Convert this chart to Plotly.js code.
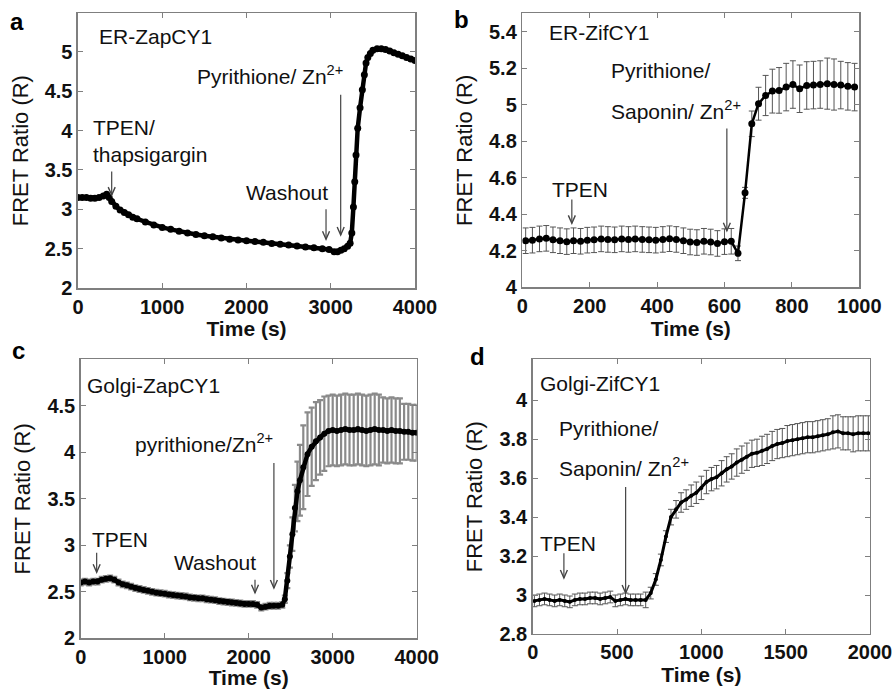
<!DOCTYPE html>
<html>
<head>
<meta charset="utf-8">
<script src="https://cdn.plot.ly/plotly-3.0.1.min.js"></script>
<style>html,body{margin:0;padding:0;background:#fff;}#chart{width:896px;height:689px;}</style>
</head>
<body>
<div id="chart"></div>
<script>
// ---------- Panel a: ER-ZapCY1 ----------
const timeA = [0,50,100,150,200,250,300,340,370,400,450,500,550,600,650,700,800,900,1000,1100,1200,1300,1400,1500,1600,1700,1800,1900,2000,2100,2200,2300,2400,2500,2600,2700,2800,2900,2980,3040,3080,3120,3160,3200,3230,3250,3269,3285,3300,3320,3348,3375,3399,3419,3440,3470,3500,3550,3600,3650,3700,3750,3800,3850,3900,3950,4000];
const ratioA = [3.15,3.15,3.15,3.14,3.14,3.15,3.17,3.19,3.15,3.10,3.04,2.99,2.96,2.93,2.90,2.88,2.84,2.80,2.77,2.745,2.72,2.70,2.68,2.665,2.65,2.635,2.62,2.61,2.60,2.59,2.58,2.565,2.555,2.545,2.535,2.52,2.51,2.50,2.49,2.46,2.46,2.48,2.50,2.53,2.57,2.70,3.03,3.35,3.69,4.03,4.29,4.52,4.71,4.86,4.93,4.98,5.02,5.04,5.04,5.03,5.01,4.99,4.97,4.95,4.93,4.91,4.89];

// ---------- Panel b: ER-ZifCY1 ----------
const timeB = [10,30,51,71,91,112,132,152,173,193,213,234,254,274,295,315,335,356,376,396,417,437,457,478,498,518,539,559,579,600,620,640,661,681,701,722,742,762,783,803,823,844,864,884,905,925,945,966,986];
const ratioB = [4.255,4.258,4.265,4.268,4.26,4.255,4.25,4.255,4.252,4.258,4.26,4.265,4.262,4.26,4.265,4.262,4.265,4.262,4.26,4.258,4.262,4.266,4.262,4.255,4.248,4.245,4.252,4.248,4.24,4.25,4.252,4.186,4.517,4.895,5.005,5.05,5.074,5.078,5.096,5.11,5.087,5.105,5.107,5.11,5.115,5.11,5.107,5.10,5.096];
const errB = [0.07,0.07,0.07,0.07,0.07,0.07,0.07,0.07,0.07,0.07,0.07,0.07,0.07,0.07,0.07,0.07,0.07,0.07,0.07,0.07,0.07,0.07,0.07,0.07,0.07,0.07,0.07,0.07,0.07,0.07,0.07,0.04,0.03,0.07,0.09,0.11,0.12,0.125,0.13,0.13,0.13,0.13,0.13,0.13,0.14,0.14,0.13,0.13,0.13];

// ---------- Panel c: Golgi-ZapCY1 ----------
const timeC = [0,50,100,150,200,250,300,350,400,450,500,550,600,650,700,750,800,850,900,950,1000,1050,1100,1150,1200,1250,1300,1350,1400,1450,1500,1550,1600,1650,1700,1750,1800,1850,1900,1950,2000,2050,2100,2150,2200,2250,2300,2350,2400,2430,2460,2490,2520,2550,2580,2610,2650,2700,2750,2800,2850,2900,2950,3000,3050,3100,3150,3200,3250,3300,3350,3400,3450,3500,3550,3600,3650,3700,3750,3800,3850,3900,3950,4000];
const ratioC = [2.60,2.61,2.60,2.61,2.61,2.63,2.64,2.645,2.63,2.60,2.58,2.57,2.555,2.54,2.53,2.52,2.51,2.50,2.49,2.485,2.48,2.47,2.465,2.46,2.455,2.45,2.44,2.435,2.43,2.43,2.42,2.415,2.41,2.40,2.395,2.39,2.385,2.38,2.375,2.37,2.37,2.37,2.36,2.33,2.34,2.35,2.35,2.35,2.36,2.42,2.62,2.88,3.12,3.40,3.58,3.70,3.84,3.98,4.06,4.12,4.16,4.20,4.23,4.24,4.23,4.24,4.25,4.24,4.24,4.25,4.24,4.23,4.24,4.25,4.24,4.24,4.23,4.24,4.23,4.23,4.22,4.22,4.21,4.21];
const errC = [0.03,0.03,0.03,0.03,0.03,0.03,0.03,0.03,0.03,0.03,0.03,0.03,0.03,0.03,0.03,0.03,0.03,0.03,0.03,0.03,0.03,0.03,0.03,0.03,0.03,0.03,0.03,0.03,0.03,0.03,0.03,0.03,0.03,0.03,0.03,0.03,0.03,0.03,0.03,0.03,0.03,0.03,0.03,0.03,0.03,0.03,0.03,0.03,0.03,0.04,0.08,0.12,0.18,0.25,0.32,0.38,0.45,0.45,0.42,0.42,0.40,0.40,0.38,0.38,0.38,0.38,0.38,0.38,0.38,0.38,0.38,0.38,0.38,0.38,0.38,0.35,0.35,0.35,0.35,0.35,0.30,0.30,0.30,0.30];

// ---------- Panel d: Golgi-ZifCY1 ----------
const timeD = [10,40,70,100,130,160,190,220,250,280,310,340,370,400,430,460,490,520,550,580,610,640,670,700,730,760,790,820,850,880,910,940,970,1000,1030,1060,1090,1120,1150,1180,1210,1240,1270,1300,1330,1360,1390,1420,1450,1480,1510,1540,1570,1600,1630,1660,1690,1720,1750,1780,1810,1840,1870,1900,1930,1960,1990];
const ratioD = [2.97,2.975,2.98,2.975,2.97,2.975,2.97,2.965,2.975,2.98,2.98,2.985,2.985,2.98,2.985,2.99,2.97,2.975,2.98,2.975,2.975,2.975,2.975,3.01,3.08,3.18,3.30,3.40,3.44,3.475,3.49,3.51,3.525,3.55,3.58,3.595,3.605,3.625,3.645,3.66,3.68,3.695,3.71,3.725,3.73,3.74,3.75,3.765,3.775,3.78,3.79,3.795,3.80,3.805,3.81,3.81,3.815,3.82,3.825,3.835,3.84,3.83,3.83,3.825,3.83,3.83,3.83];
const errD = [0.03,0.03,0.03,0.03,0.03,0.03,0.03,0.03,0.03,0.03,0.03,0.03,0.03,0.03,0.03,0.03,0.03,0.03,0.03,0.03,0.03,0.03,0.04,0.03,0.03,0.03,0.03,0.04,0.045,0.05,0.05,0.055,0.055,0.06,0.06,0.06,0.06,0.065,0.065,0.065,0.07,0.07,0.07,0.07,0.07,0.075,0.075,0.075,0.075,0.075,0.08,0.08,0.08,0.08,0.08,0.08,0.08,0.08,0.08,0.085,0.085,0.085,0.085,0.09,0.09,0.09,0.09];

// ---------- Tick values ----------
const yTicksA = [2,2.5,3,3.5,4,4.5,5];
const yTicksB = [4,4.2,4.4,4.6,4.8,5,5.2,5.4];
const yTicksC = [2,2.5,3,3.5,4,4.5];
const yTicksD = [2.8,3,3.2,3.4,3.6,3.8,4];
const xTicksA = [0,1000,2000,3000,4000];
const xTicksB = [0,200,400,600,800,1000];
const xTicksC = [0,1000,2000,3000,4000];
const xTicksD = [0,500,1000,1500,2000];

const FONT = 'Liberation Sans, Arial, Helvetica, sans-serif';
const AX = '#7f7f7f';

const traces = [
  {x: timeA, y: ratioA, xaxis:'x', yaxis:'y', mode:'lines+markers', line:{color:'#000', width:4.5}, marker:{color:'#000', size:7}},
  {x: timeB, y: ratioB, xaxis:'x2', yaxis:'y2', mode:'lines+markers', line:{color:'#000', width:2.5}, marker:{color:'#000', size:7},
    error_y:{type:'data', array: errB, color:'#555', thickness:1, width:3}},
  {x: timeC, y: ratioC, xaxis:'x3', yaxis:'y3', mode:'lines+markers', line:{color:'#000', width:4.5}, marker:{color:'#000', size:6},
    error_y:{type:'data', array: errC, color:'#8a8a8a', thickness:2.2, width:3}},
  {x: timeD, y: ratioD, xaxis:'x4', yaxis:'y4', mode:'lines+markers', line:{color:'#000', width:3}, marker:{color:'#000', size:4},
    error_y:{type:'data', array: errD, color:'#555', thickness:1, width:3}}
];

function xa(domain, range, tickvals, anchor){
  return {domain, range, tickvals, anchor, showline:true, linecolor:AX, linewidth:1.5, mirror:'ticks',
    ticks:'inside', ticklen:5, tickcolor:AX, showgrid:false, zeroline:false,
    tickfont:{family:FONT, size:20, color:'#111', weight:'bold'},
    title:{text:'Time (s)', font:{family:FONT, size:21, color:'#111', weight:'bold'}, standoff:4}};
}
function ya(domain, range, tickvals, anchor){
  return {domain, range, tickvals, anchor, showline:true, linecolor:AX, linewidth:1.5, mirror:'ticks',
    ticks:'inside', ticklen:5, tickcolor:AX, showgrid:false, zeroline:false,
    tickfont:{family:FONT, size:20, color:'#111', weight:'bold'},
    title:{text:'FRET Ratio (R)', font:{family:FONT, size:22, color:'#111'}, standoff:10}};
}

const TF = {family:FONT, size:21, color:'#111'};
function txt(xref, yref, x, y, text){
  return {xref, yref, x, y, text, showarrow:false, xanchor:'left', yanchor:'middle', font:TF};
}
// Arrow = shaft line (data coords) + small V head (pixel-sized, anchored at the head point)
const ARROW_COLOR = '#444';
function arrowShapes(xref, yref, x, yTail, yHead){
  return [
    {type:'line', xref, yref, x0:x, x1:x, y0:yTail, y1:yHead, line:{color:ARROW_COLOR, width:1.2}},
    {type:'path', xref, yref, xsizemode:'pixel', ysizemode:'pixel', xanchor:x, yanchor:yHead,
      path:'M-3.5,8 L0,0 L3.5,8', line:{color:ARROW_COLOR, width:1.4}}
  ];
}
function letter(x, y, t){
  return {xref:'paper', yref:'paper', x, y, text:t, showarrow:false, xanchor:'center', yanchor:'middle',
    font:{family:FONT, size:24, color:'#000', weight:'bold'}};
}

const annotations = [
  letter(0.019, 0.9695, 'a'), letter(0.5156, 0.971, 'b'), letter(0.0212, 0.4906, 'c'), letter(0.5324, 0.4819, 'd'),
  // panel a
  txt('x','y',225,5.19,'ER-ZapCY1'),
  txt('x','y',1389,4.71,'Pyrithione/ Zn<sup>2+</sup>'),
  txt('x','y',154,4.04,'TPEN/'),
  txt('x','y',154,3.69,'thapsigargin'),
  txt('x','y',1970,3.21,'Washout'),
  // panel b
  txt('x2','y2',73,5.395,'ER-ZifCY1'),
  txt('x2','y2',257,5.187,'Pyrithione/'),
  txt('x2','y2',257,4.97,'Saponin/ Zn<sup>2+</sup>'),
  txt('x2','y2',82,4.537,'TPEN'),
  // panel c
  txt('x3','y3',51,4.72,'Golgi-ZapCY1'),
  txt('x3','y3',623,4.10,'pyrithione/Zn<sup>2+</sup>'),
  txt('x3','y3',111,3.057,'TPEN'),
  txt('x3','y3',1087,2.81,'Washout'),
  // panel d
  txt('x4','y4',31,4.087,'Golgi-ZifCY1'),
  txt('x4','y4',144,3.856,'Pyrithione/'),
  txt('x4','y4',144,3.656,'Saponin/ Zn<sup>2+</sup>'),
  txt('x4','y4',31,3.267,'TPEN')
];

const shapes = [].concat(
  arrowShapes('x','y',400,3.48,3.18),
  arrowShapes('x','y',2944,3.0,2.62),
  arrowShapes('x','y',3118,4.455,2.674),
  arrowShapes('x2','y2',147,4.48,4.35),
  arrowShapes('x2','y2',607,4.87,4.31),
  arrowShapes('x3','y3',190,2.92,2.71),
  arrowShapes('x3','y3',2075,2.63,2.49),
  arrowShapes('x3','y3',2300,3.885,2.54),
  arrowShapes('x4','y4',185,3.215,3.087),
  arrowShapes('x4','y4',551,3.554,3.01)
);

const layout = {
  width:896, height:689, paper_bgcolor:'#fff', plot_bgcolor:'#fff', showlegend:false,
  margin:{l:0, r:0, t:0, b:0},
  font:{family:FONT, color:'#111'},
  xaxis:  xa([0.08705,0.46317],[0,4000],xTicksA,'y'),
  yaxis:  ya([0.58200,0.98070],[2,5.49],yTicksA,'x'),
  xaxis2: xa([0.58292,0.95904],[0,1000],xTicksB,'y2'),
  yaxis2: ya([0.58302,0.98070],[4,5.5],yTicksB,'x2'),
  xaxis3: xa([0.09007,0.46507],[0,4000],xTicksC,'y3'),
  yaxis3: ya([0.07358,0.47852],[2,5],yTicksC,'x3'),
  xaxis4: xa([0.59453,0.97098],[0,2000],xTicksD,'y4'),
  yaxis4: ya([0.07983,0.47852],[2.8,4.21],yTicksD,'x4'),
  annotations, shapes
};

Plotly.newPlot('chart', traces, layout, {staticPlot:true, displayModeBar:false});
</script>
</body>
</html>
